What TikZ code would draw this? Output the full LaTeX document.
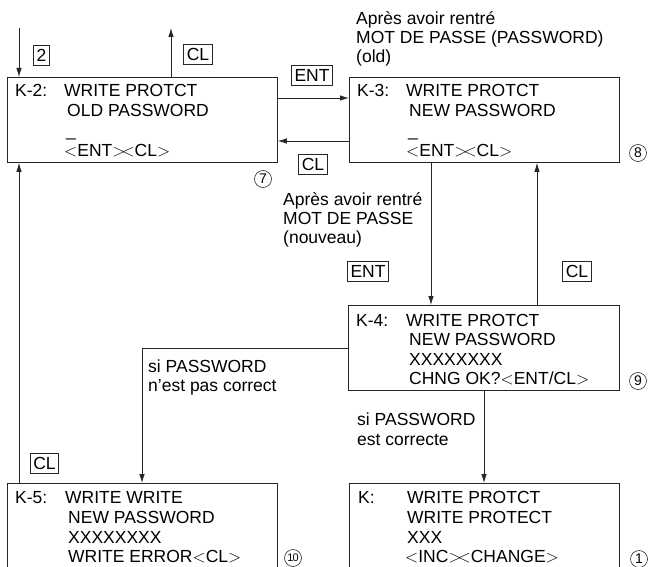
\documentclass[tikz,border=0pt]{standalone}
\usepackage{fontspec}
\setmainfont{Liberation Sans}
\usetikzlibrary{arrows.meta}
\newcommand{\lt}{$\mathord{<}$}
\newcommand{\gt}{$\mathord{>}$}
\begin{document}
\begin{tikzpicture}[x=1pt,y=-1pt,
  ln/.style={draw=black!85, line width=0.8pt},
  arr/.style={ln, -{Latex[length=9pt,width=5.5pt]}},
  scr/.style={ln, rectangle, inner sep=0pt, minimum width=270pt, minimum height=85pt, anchor=north west},
  tx/.style={anchor=base west, inner sep=0pt, font=\fontsize{17.5}{20}\selectfont},
  key/.style={ln, rectangle, inner xsep=3pt, minimum height=20pt, text height=12.5pt, text depth=0pt, font=\fontsize{17.5}{20}\selectfont},
  num/.style={circle, draw=black!85, line width=0.6pt, inner sep=0pt, minimum size=17pt, font=\fontsize{14}{14}\selectfont}]
\useasboundingbox (0,0) rectangle (650,567);
\clip (0,0) rectangle (650,567);

% screens
\node[scr] (k2) at (7,77) {};
\node[scr] (k3) at (349,77) {};
\node[scr, minimum width=271pt] (k4) at (348,305) {};
\node[scr] (k5) at (7,483) {};
\node[scr] (k) at (349,483) {};

% K-2 text
\node[tx] (k2a) at (15,97) {K-2:};
\node[tx] (k2b) at (64,97) {WRITE PROTCT};
\node[tx] (k2c) at (67,117) {OLD PASSWORD};
\node[tx] (k2d) at (66,136) {\_};
\node[tx] (k2e) at (64,157) {\lt ENT\gt\kern-4pt\lt CL\gt};

% K-3 text
\node[tx] (k3a) at (357,97) {K-3:};
\node[tx] (k3b) at (406,97) {WRITE PROTCT};
\node[tx] (k3c) at (409,117) {NEW PASSWORD};
\node[tx] (k3d) at (408,136) {\_};
\node[tx] (k3e) at (406,157) {\lt ENT\gt\kern-4pt\lt CL\gt};

% K-4 text
\node[tx] (k4a) at (356,326) {K-4:};
\node[tx] (k4b) at (406,326) {WRITE PROTCT};
\node[tx] (k4c) at (409,345) {NEW PASSWORD};
\node[tx] (k4d) at (409,365) {XXXXXXXX};
\node[tx] (k4e) at (409,384) {CHNG OK?\lt ENT/CL\gt};

% K-5 text
\node[tx] (k5a) at (15,503) {K-5:};
\node[tx] (k5b) at (65,503) {WRITE WRITE};
\node[tx] (k5c) at (68,523) {NEW PASSWORD};
\node[tx] (k5d) at (68,543) {XXXXXXXX};
\node[tx] (k5e) at (68,562) {WRITE ERROR\lt CL\gt};

% K text
\node[tx] (ka) at (358,503) {K:};
\node[tx] (kb) at (407,503) {WRITE PROTCT};
\node[tx] (kc) at (407,523) {WRITE PROTECT};
\node[tx] (kd) at (407,543) {XXX};
\node[tx] (ke) at (405,562) {\lt INC\gt\kern-4pt\lt CHANGE\gt};

% circled numbers
\node[num] (n7) at (263,179) {7};
\node[num] (n8) at (638,153) {8};
\node[num] (n9) at (638,381) {9};
\node[num] (n10) at (293,558) {\fontsize{11}{11}\selectfont 1\kern-0.8pt0};
\node[num] (n1) at (639,559) {1};

% key labels
\node[key] (kn2) at (41.5,55.5) {2};
\node[key] (kcl1) at (198,54) {CL};
\node[key] (kent1) at (312,75) {ENT};
\node[key] (kcl2) at (313,164) {CL};
\node[key] (kent2) at (368,271) {ENT};
\node[key] (kcl3) at (577,271) {CL};
\node[key] (kcl4) at (44.5,463) {CL};

% annotation texts
\node[tx] (t1) at (356,25) {Après avoir rentré};
\node[tx] (t2) at (356,44) {MOT DE PASSE (PASSWORD)};
\node[tx] (t3) at (356,63) {(old)};
\node[tx] (t4) at (283,205) {Après avoir rentré};
\node[tx] (t5) at (283,224) {MOT DE PASSE};
\node[tx] (t6) at (283,243) {(nouveau)};
\node[tx] (t7) at (148,372) {si PASSWORD};
\node[tx] (t8) at (148,391) {n'est pas correct};
\node[tx] (t9) at (357,425) {si PASSWORD};
\node[tx] (t10) at (357,445) {est correcte};

% helper coordinates
\coordinate (top) at (0,28);
\coordinate (xin) at (19,0);
\coordinate (xcl) at (171,0);
\coordinate (y98) at (0,98);
\coordinate (y141) at (0,141);
\coordinate (x431) at (431,0);
\coordinate (x537) at (537,0);
\coordinate (x484) at (484,0);
\coordinate (y348) at (0,348);
\coordinate (x142) at (142,0);
\coordinate (x18) at (19,0);
\coordinate (bend) at (142,348);

% connectors
\draw[arr] (xin |- top) -- (xin |- k2.north);
\draw[arr] (xcl |- k2.north) -- (xcl |- top);
\draw[arr] (k2.east |- y98) -- (k3.west |- y98);
\draw[arr] (k3.west |- y141) -- (k2.east |- y141);
\draw[arr] (x431 |- k3.south) -- (x431 |- k4.north);
\draw[arr] (x537 |- k4.north) -- (x537 |- k3.south);
\draw[arr] (k4.west |- y348) -- (bend) -- (x142 |- k5.north);
\draw[arr] (x484 |- k4.south) -- (x484 |- k.north);
\draw[arr] (x18 |- k5.north) -- (x18 |- k2.south);
\end{tikzpicture}
\end{document}
